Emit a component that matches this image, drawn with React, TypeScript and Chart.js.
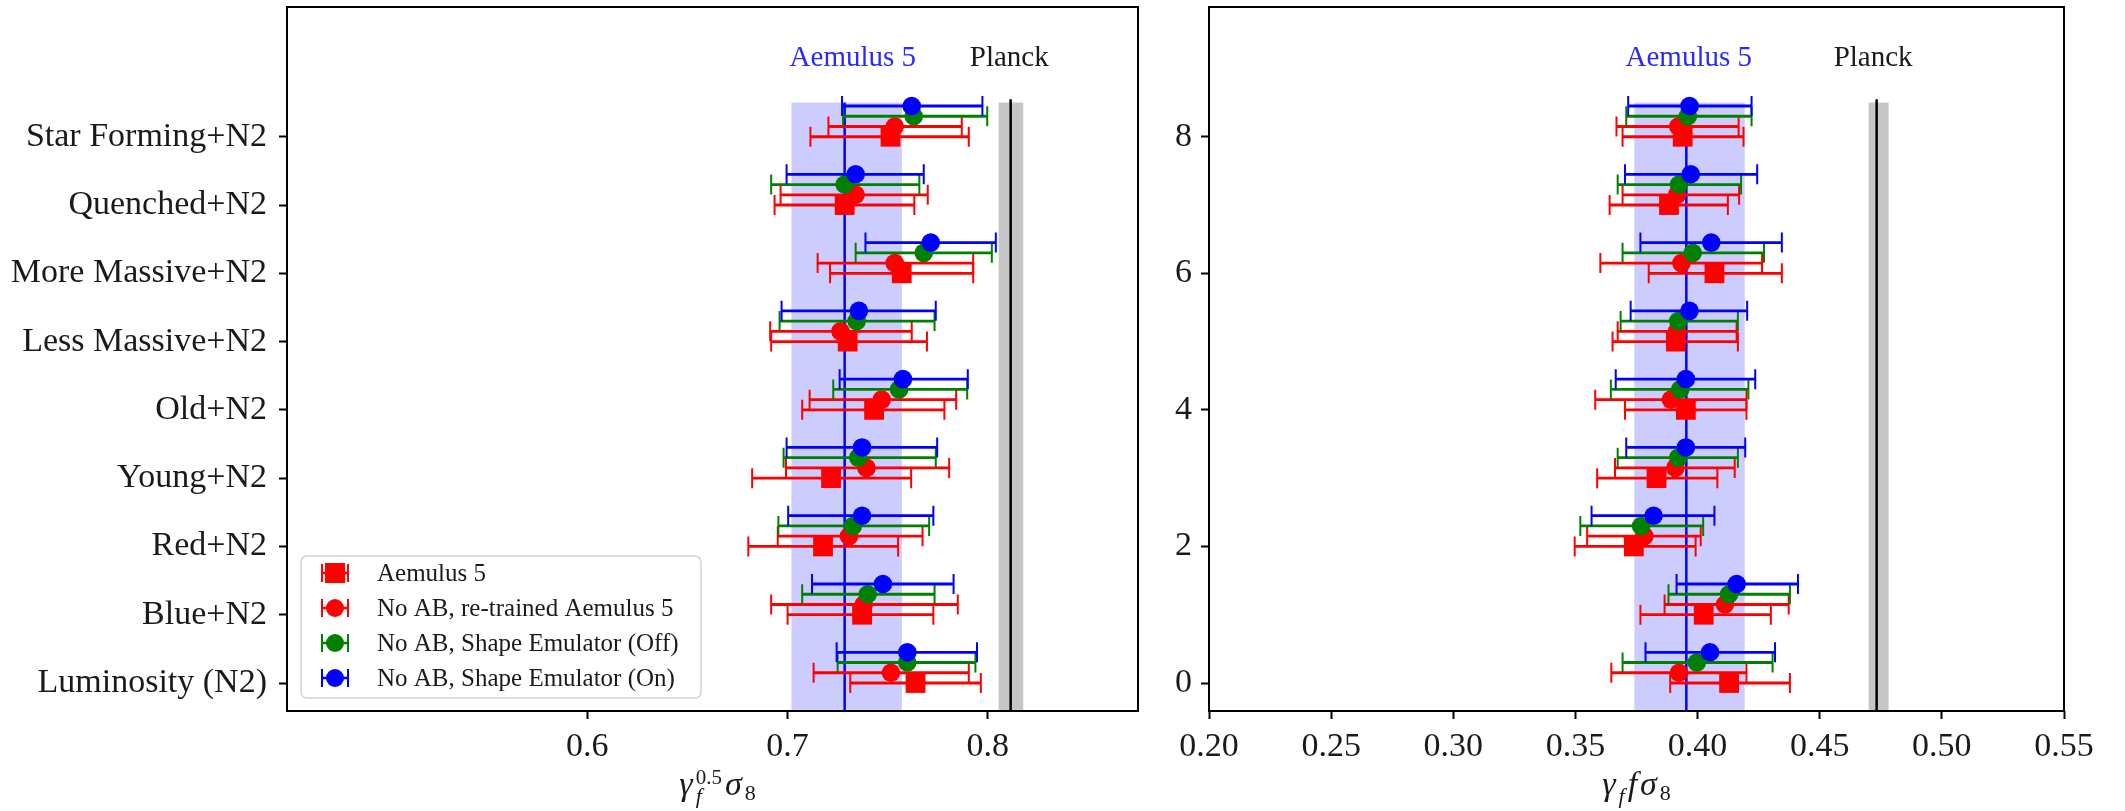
import React, { useEffect, useRef } from 'react';
import { Chart, registerables } from 'chart.js';

Chart.register(...registerables);

// ---------------- DATA ----------------
// categories, bottom (0) to top (8)
const categories = [
  'Luminosity (N2)',
  'Blue+N2',
  'Red+N2',
  'Young+N2',
  'Old+N2',
  'Less Massive+N2',
  'More Massive+N2',
  'Quenched+N2',
  'Star Forming+N2',
];

const seriesNames = [
  'Aemulus 5',
  'No AB, re-trained Aemulus 5',
  'No AB, Shape Emulator (Off)',
  'No AB, Shape Emulator (On)',
];

// Left panel: gamma_f^0.5 sigma_8
const leftAemulus5 = [0.7639, 0.7372, 0.7177, 0.7217, 0.7432, 0.7300, 0.7570, 0.7285, 0.7514];
const leftAemulus5Low = [0.7313, 0.7000, 0.6804, 0.6823, 0.7073, 0.6918, 0.7212, 0.6935, 0.7114];
const leftAemulus5High = [0.7965, 0.7728, 0.7552, 0.7617, 0.7783, 0.7696, 0.7927, 0.7633, 0.7905];

const leftRetrained = [0.7516, 0.7380, 0.7307, 0.7394, 0.7470, 0.7264, 0.7535, 0.7340, 0.7535];
const leftRetrainedLow = [0.7130, 0.6918, 0.6951, 0.6992, 0.7110, 0.6913, 0.7150, 0.6965, 0.7204];
const leftRetrainedHigh = [0.7905, 0.7850, 0.7674, 0.7807, 0.7842, 0.7620, 0.7927, 0.7700, 0.7870];

const leftShapeOff = [0.7598, 0.7400, 0.7326, 0.7353, 0.7557, 0.7345, 0.7680, 0.7285, 0.7630];
const leftShapeOffLow = [0.7250, 0.7073, 0.6954, 0.6980, 0.7228, 0.6960, 0.7340, 0.6918, 0.7277];
const leftShapeOffHigh = [0.7938, 0.7734, 0.7707, 0.7740, 0.7897, 0.7734, 0.8020, 0.7658, 0.7997];

const leftShapeOn = [0.7598, 0.7476, 0.7372, 0.7372, 0.7576, 0.7356, 0.7715, 0.7340, 0.7620];
const leftShapeOnLow = [0.7245, 0.7122, 0.7003, 0.6995, 0.7260, 0.6970, 0.7389, 0.6995, 0.7272];
const leftShapeOnHigh = [0.7946, 0.7829, 0.7728, 0.7747, 0.7900, 0.7740, 0.8040, 0.7680, 0.7973];

// Right panel: gamma_f f sigma_8
const rightAemulus5 = [0.4129, 0.4025, 0.3739, 0.3832, 0.3952, 0.3911, 0.4069, 0.3883, 0.3939];
const rightAemulus5Low = [0.3888, 0.3766, 0.3497, 0.3589, 0.3703, 0.3652, 0.3800, 0.3640, 0.3693];
const rightAemulus5High = [0.4378, 0.4300, 0.3992, 0.4081, 0.4200, 0.4165, 0.4345, 0.4124, 0.4188];

const rightRetrained = [0.3924, 0.4112, 0.3782, 0.3909, 0.3891, 0.3916, 0.3934, 0.3916, 0.3921];
const rightRetrainedLow = [0.3647, 0.3865, 0.3548, 0.3662, 0.3581, 0.3673, 0.3602, 0.3693, 0.3668];
const rightRetrainedHigh = [0.4200, 0.4373, 0.4013, 0.4152, 0.4200, 0.4160, 0.4264, 0.4170, 0.4168];

const rightShapeOff = [0.3997, 0.4129, 0.3769, 0.3921, 0.3929, 0.3921, 0.3980, 0.3924, 0.3960];
const rightShapeOffLow = [0.3693, 0.3881, 0.3520, 0.3673, 0.3645, 0.3685, 0.3693, 0.3673, 0.3708];
const rightShapeOffHigh = [0.4307, 0.4378, 0.4023, 0.4165, 0.4208, 0.4165, 0.4272, 0.4178, 0.4221];

const rightShapeOn = [0.4051, 0.4160, 0.3820, 0.3952, 0.3952, 0.3967, 0.4056, 0.3972, 0.3967];
const rightShapeOnLow = [0.3787, 0.3914, 0.3566, 0.3708, 0.3665, 0.3726, 0.3766, 0.3703, 0.3716];
const rightShapeOnHigh = [0.4317, 0.4411, 0.4069, 0.4195, 0.4236, 0.4203, 0.4345, 0.4244, 0.4221];

// reference bands: [low, centre, high]
const leftAemulusBand = [0.7019, 0.7285, 0.7571];
const leftPlanckBand = [0.8054, 0.8114, 0.8177];
const rightAemulusBand = [0.3741, 0.3954, 0.4193];
const rightPlanckBand = [0.4700, 0.4733, 0.4782];

// tick labels
const leftXTicks = [0.6, 0.7, 0.8];
const rightXTicks = [0.20, 0.25, 0.30, 0.35, 0.40, 0.45, 0.50, 0.55];
const rightYTicks = [0, 2, 4, 6, 8];

// ---------------- STYLE / LAYOUT ----------------
const OFFSETS = [0, 0.15, 0.3, 0.45];
const COLORS = ['#ff0000', '#ff0000', '#008000', '#0000ff'];
const STYLES = ['rect', 'circle', 'circle', 'circle'];
const SERIF = '"Liberation Serif", "DejaVu Serif", serif';
const TEXT = '#1a1a1a';
const Y_MIN = -0.41;
const Y_MAX = 9.9;
const BAND_TOP = 8.5;
const BAND_BOTTOM = -0.5;
const AREA_TOP = 7;
const AREA_BOTTOM = 711;

type Seg = { t: string; italic?: boolean; size: number; dy: number; stack?: boolean };

function drawMath(ctx: CanvasRenderingContext2D, segs: Seg[], cx: number, baseline: number) {
  const font = (s: Seg) => `${s.italic ? 'italic ' : ''}${s.size}px ${SERIF}`;
  const groups: Seg[][] = [];
  segs.forEach((s) => {
    if (s.stack && groups.length) groups[groups.length - 1].push(s);
    else groups.push([s]);
  });
  const widths = groups.map((g) =>
    Math.max(
      ...g.map((s) => {
        ctx.font = font(s);
        return ctx.measureText(s.t).width;
      })
    )
  );
  const gap = 3;
  const total = widths.reduce((a, b) => a + b, 0) + gap * (widths.length - 1);
  let x = cx - total / 2;
  ctx.fillStyle = TEXT;
  ctx.textAlign = 'left';
  ctx.textBaseline = 'alphabetic';
  groups.forEach((g, i) => {
    g.forEach((s) => {
      ctx.font = font(s);
      ctx.fillText(s.t, x, baseline + s.dy);
    });
    x += widths[i] + gap;
  });
}

const leftTitle: Seg[] = [
  { t: 'γ', italic: true, size: 34, dy: 0 },
  { t: 'f', italic: true, size: 22, dy: 8 },
  { t: '0.5', size: 21, dy: -11, stack: true },
  { t: 'σ', italic: true, size: 34, dy: 0 },
  { t: '8', size: 22, dy: 5 },
];
const rightTitle: Seg[] = [
  { t: 'γ', italic: true, size: 34, dy: 0 },
  { t: 'f', italic: true, size: 22, dy: 8 },
  { t: 'f', italic: true, size: 34, dy: 0 },
  { t: 'σ', italic: true, size: 34, dy: 0 },
  { t: '8', size: 22, dy: 5 },
];

type Panel = {
  values: number[][];
  lows: number[][];
  highs: number[][];
  xMin: number;
  xMax: number;
  xTicks: number[];
  xDecimals: number;
  yTicks: number[];
  yLabel: (v: number) => string;
  yPad: number;
  aemulus: number[];
  planck: number[];
  annX: number[];
  title: Seg[];
  titleShift: number;
  legend: boolean;
  canvasWidth: number;
  areaLeft: number;
  areaRight: number;
};

const leftPanel: Panel = {
  values: [leftAemulus5, leftRetrained, leftShapeOff, leftShapeOn],
  lows: [leftAemulus5Low, leftRetrainedLow, leftShapeOffLow, leftShapeOnLow],
  highs: [leftAemulus5High, leftRetrainedHigh, leftShapeOffHigh, leftShapeOnHigh],
  xMin: 0.45,
  xMax: 0.875,
  xTicks: leftXTicks,
  xDecimals: 1,
  yTicks: categories.map((_, i) => i),
  yLabel: (v) => categories[v] ?? '',
  yPad: 12,
  aemulus: leftAemulusBand,
  planck: leftPlanckBand,
  annX: [0.701, 0.791],
  title: leftTitle,
  titleShift: 5,
  legend: true,
  canvasWidth: 1150,
  areaLeft: 287,
  areaRight: 1138,
};

const rightPanel: Panel = {
  values: [rightAemulus5, rightRetrained, rightShapeOff, rightShapeOn],
  lows: [rightAemulus5Low, rightRetrainedLow, rightShapeOffLow, rightShapeOnLow],
  highs: [rightAemulus5High, rightRetrainedHigh, rightShapeOffHigh, rightShapeOnHigh],
  xMin: 0.2,
  xMax: 0.55,
  xTicks: rightXTicks,
  xDecimals: 2,
  yTicks: rightYTicks,
  yLabel: (v) => String(v),
  yPad: 9,
  aemulus: rightAemulusBand,
  planck: rightPlanckBand,
  annX: [0.3705, 0.4557],
  title: rightTitle,
  titleShift: 0,
  legend: false,
  canvasWidth: 975,
  areaLeft: 59,
  areaRight: 914,
};

const bandPlugin = {
  id: 'bands',
  beforeDatasetsDraw(chart: any) {
    const p: Panel = chart.options.plugins.panel;
    const { ctx, chartArea: a, scales } = chart;
    const xs = scales.x;
    const ys = scales.y;
    ctx.save();
    ctx.beginPath();
    ctx.rect(a.left, a.top, a.right - a.left, a.bottom - a.top);
    ctx.clip();
    const yT = ys.getPixelForValue(BAND_TOP);
    const yB = ys.getPixelForValue(BAND_BOTTOM);
    ctx.fillStyle = 'rgba(0,0,255,0.2)';
    const ax1 = xs.getPixelForValue(p.aemulus[0]);
    const ax2 = xs.getPixelForValue(p.aemulus[2]);
    ctx.fillRect(ax1, yT, ax2 - ax1, yB - yT);
    ctx.fillStyle = 'rgba(128,128,128,0.45)';
    const px1 = xs.getPixelForValue(p.planck[0]);
    const px2 = xs.getPixelForValue(p.planck[2]);
    ctx.fillRect(px1, yT, px2 - px1, yB - yT);
    ctx.lineWidth = 2.5;
    ctx.strokeStyle = '#0000ff';
    const ac = xs.getPixelForValue(p.aemulus[1]);
    ctx.beginPath();
    ctx.moveTo(ac, yT);
    ctx.lineTo(ac, yB);
    ctx.stroke();
    ctx.strokeStyle = '#000000';
    const pc = xs.getPixelForValue(p.planck[1]);
    ctx.beginPath();
    ctx.moveTo(pc, ys.getPixelForValue(BAND_TOP + 0.05));
    ctx.lineTo(pc, yB);
    ctx.stroke();
    ctx.restore();
  },
};

const errorBarPlugin = {
  id: 'errbars',
  beforeDatasetDraw(chart: any, args: any) {
    const ds = chart.data.datasets[args.index];
    const { ctx, scales } = chart;
    const xs = scales.x;
    const ys = scales.y;
    ctx.save();
    ctx.strokeStyle = ds.borderColor;
    ds.data.forEach((pt: any, i: number) => {
      const y = ys.getPixelForValue(pt.y);
      const x1 = xs.getPixelForValue(ds.errLow[i]);
      const x2 = xs.getPixelForValue(ds.errHigh[i]);
      ctx.lineWidth = 2.8;
      ctx.beginPath();
      ctx.moveTo(x1, y);
      ctx.lineTo(x2, y);
      ctx.stroke();
      ctx.lineWidth = 2;
      ctx.beginPath();
      ctx.moveTo(x1, y - 10);
      ctx.lineTo(x1, y + 10);
      ctx.moveTo(x2, y - 10);
      ctx.lineTo(x2, y + 10);
      ctx.stroke();
    });
    ctx.restore();
  },
};

function drawLegend(ctx: CanvasRenderingContext2D) {
  const bx = 301, by = 556, bw = 400, bh = 142, r = 6;
  ctx.save();
  ctx.beginPath();
  ctx.moveTo(bx + r, by);
  ctx.arcTo(bx + bw, by, bx + bw, by + bh, r);
  ctx.arcTo(bx + bw, by + bh, bx, by + bh, r);
  ctx.arcTo(bx, by + bh, bx, by, r);
  ctx.arcTo(bx, by, bx + bw, by, r);
  ctx.closePath();
  ctx.fillStyle = 'rgba(255,255,255,0.8)';
  ctx.fill();
  ctx.lineWidth = 1.5;
  ctx.strokeStyle = '#d2d2d2';
  ctx.stroke();
  const rows = [573, 608, 643, 678];
  seriesNames.forEach((name, i) => {
    const y = rows[i];
    const c = COLORS[i];
    ctx.strokeStyle = c;
    ctx.fillStyle = c;
    ctx.lineWidth = 2.5;
    ctx.beginPath();
    ctx.moveTo(322, y);
    ctx.lineTo(348, y);
    ctx.stroke();
    ctx.lineWidth = 2;
    ctx.beginPath();
    ctx.moveTo(322, y - 9);
    ctx.lineTo(322, y + 9);
    ctx.moveTo(348, y - 9);
    ctx.lineTo(348, y + 9);
    ctx.stroke();
    if (STYLES[i] === 'rect') {
      ctx.fillRect(325, y - 10, 20, 20);
    } else {
      ctx.beginPath();
      ctx.arc(335, y, 9, 0, Math.PI * 2);
      ctx.fill();
    }
    ctx.fillStyle = TEXT;
    ctx.font = `25px ${SERIF}`;
    ctx.textAlign = 'left';
    ctx.textBaseline = 'middle';
    ctx.fillText(name, 377, y + 1);
  });
  ctx.restore();
}

const overlayPlugin = {
  id: 'overlay',
  afterDraw(chart: any) {
    const p: Panel = chart.options.plugins.panel;
    const { ctx, chartArea: a, scales } = chart;
    const xs = scales.x;
    const ys = scales.y;
    ctx.save();
    ctx.strokeStyle = '#000';
    ctx.lineWidth = 2;
    ctx.strokeRect(a.left, a.top, a.right - a.left, a.bottom - a.top);
    const yb = ys.getPixelForValue(9.03);
    ctx.font = `29px ${SERIF}`;
    ctx.textAlign = 'left';
    ctx.textBaseline = 'alphabetic';
    ctx.fillStyle = '#2a2aff';
    ctx.fillText('Aemulus 5', xs.getPixelForValue(p.annX[0]), yb);
    ctx.fillStyle = TEXT;
    ctx.fillText('Planck', xs.getPixelForValue(p.annX[1]), yb);
    drawMath(ctx, p.title, (a.left + a.right) / 2 + p.titleShift, 795);
    if (p.legend) drawLegend(ctx);
    ctx.restore();
  },
};

function buildConfig(p: Panel): any {
  const datasets = seriesNames.map((name, si) => ({
    label: name,
    data: p.values[si].map((v, i) => ({ x: v, y: i + OFFSETS[si] })),
    errLow: p.lows[si],
    errHigh: p.highs[si],
    pointStyle: STYLES[si],
    pointRadius: STYLES[si] === 'rect' ? 14 : 9.3,
    pointHoverRadius: STYLES[si] === 'rect' ? 14 : 9.3,
    backgroundColor: COLORS[si],
    borderColor: COLORS[si],
    borderWidth: 0,
    showLine: false,
    order: 3 - si,
  }));
  const tickFont = { family: SERIF, size: 34 };
  return {
    type: 'scatter',
    data: { datasets },
    options: {
      responsive: false,
      animation: false,
      events: [],
      layout: {
        autoPadding: false,
        padding: { left: 0, top: AREA_TOP, right: p.canvasWidth - p.areaRight, bottom: 0 },
      },
      plugins: {
        legend: { display: false },
        tooltip: { enabled: false },
        title: { display: false },
        panel: p,
      },
      scales: {
        x: {
          type: 'linear',
          min: p.xMin,
          max: p.xMax,
          afterBuildTicks: (sc: any) => {
            sc.ticks = p.xTicks.map((v) => ({ value: v }));
          },
          afterFit: (sc: any) => {
            sc.height = 811 - AREA_BOTTOM;
            sc.paddingLeft = 0;
            sc.paddingRight = 0;
          },
          ticks: {
            callback: (v: any) => Number(v).toFixed(p.xDecimals),
            font: tickFont,
            color: TEXT,
            padding: 8,
            autoSkip: false,
            maxRotation: 0,
          },
          grid: { drawOnChartArea: false, drawTicks: true, tickLength: 8, tickWidth: 2, tickColor: '#000' },
          border: { display: false },
        },
        y: {
          type: 'linear',
          min: Y_MIN,
          max: Y_MAX,
          afterBuildTicks: (sc: any) => {
            sc.ticks = p.yTicks.map((v) => ({ value: v }));
          },
          afterFit: (sc: any) => {
            sc.width = p.areaLeft;
            sc.paddingTop = 0;
            sc.paddingBottom = 0;
          },
          ticks: {
            callback: (v: any) => p.yLabel(Number(v)),
            font: tickFont,
            color: TEXT,
            padding: p.yPad,
            autoSkip: false,
          },
          grid: { drawOnChartArea: false, drawTicks: true, tickLength: 8, tickWidth: 2, tickColor: '#000' },
          border: { display: false },
        },
      },
    },
    plugins: [bandPlugin, errorBarPlugin, overlayPlugin],
  };
}

function fitArea(chart: any, p: Panel) {
  const a = chart.chartArea;
  const pad = chart.options.layout.padding;
  const dTop = AREA_TOP - a.top;
  const dRight = a.right - p.areaRight;
  if (Math.abs(dTop) > 0.5 || Math.abs(dRight) > 0.5) {
    pad.top += dTop;
    pad.right += dRight;
    chart.update();
  }
}

export default function App() {
  const leftRef = useRef<HTMLCanvasElement>(null);
  const rightRef = useRef<HTMLCanvasElement>(null);
  useEffect(() => {
    const c1 = new Chart(leftRef.current as HTMLCanvasElement, buildConfig(leftPanel));
    const c2 = new Chart(rightRef.current as HTMLCanvasElement, buildConfig(rightPanel));
    fitArea(c1, leftPanel);
    fitArea(c2, rightPanel);
    return () => {
      c1.destroy();
      c2.destroy();
    };
  }, []);
  return (
    <div
      style={{
        position: 'absolute',
        left: 0,
        top: 0,
        width: 2125,
        height: 811,
        background: '#fff',
        overflow: 'hidden',
      }}
    >
      <canvas
        ref={leftRef}
        width={1150}
        height={811}
        style={{ position: 'absolute', left: 0, top: 0, width: 1150, height: 811 }}
      />
      <canvas
        ref={rightRef}
        width={975}
        height={811}
        style={{ position: 'absolute', left: 1150, top: 0, width: 975, height: 811 }}
      />
    </div>
  );
}
